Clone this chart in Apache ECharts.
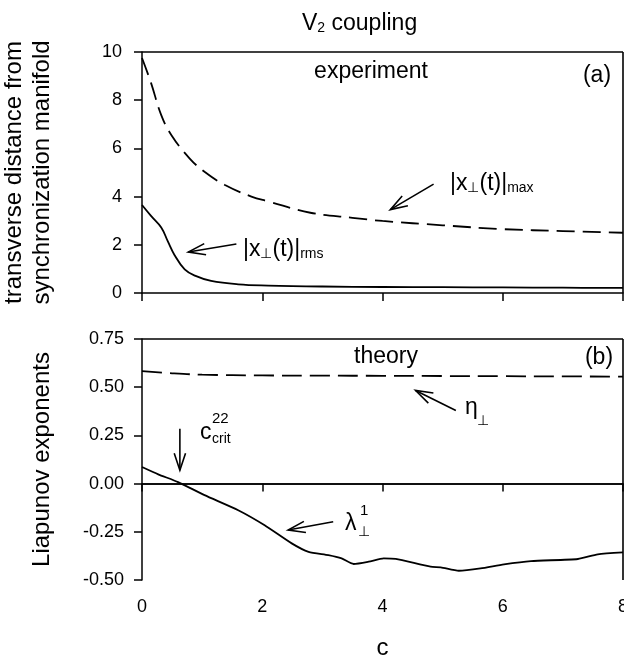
<!DOCTYPE html>
<html>
<head>
<meta charset="utf-8">
<script src="https://cdn.jsdelivr.net/npm/echarts@6/dist/echarts.min.js"></script>
<style>
  html, body { margin: 0; padding: 0; background: #fff; }
  #app { width: 624px; height: 656px; }
</style>
</head>
<body>
<div id="app"></div>
<script>
// (a) experiment
var cMax = [0, 0.15, 0.32, 0.49, 0.79, 1.04, 1.38, 1.82, 2.1, 2.8, 3.5, 4.0, 5.0, 6.0, 7.0, 8.0];
var xMax = [9.75, 8.72, 7.38, 6.55, 5.59, 5.03, 4.48, 4.0, 3.8, 3.33, 3.12, 2.99, 2.81, 2.65, 2.57, 2.5];
var cRms = [0, 0.15, 0.32, 0.43, 0.54, 0.71, 0.88, 1.15, 1.6, 2.1, 3.0, 4.0, 5.0, 6.0, 7.0, 8.0];
var xRms = [3.65, 3.2, 2.72, 2.14, 1.58, 0.98, 0.72, 0.5, 0.36, 0.31, 0.27, 0.25, 0.24, 0.23, 0.22, 0.21];
// (b) theory
var cEta = [0, 0.5, 1.0, 2.0, 3, 4, 5, 6, 7, 8];
var eta = [0.583, 0.572, 0.565, 0.561, 0.56, 0.559, 0.558, 0.557, 0.556, 0.555];
var cLam = [0, 0.27, 0.6, 1.04, 1.6, 2.04, 2.49, 2.77, 3.1, 3.32, 3.52, 3.77, 4.02, 4.22, 4.8, 4.97, 5.27, 5.63, 6.02, 6.47, 7.25, 7.58, 8.0];
var lam = [0.086, 0.048, 0.008, -0.06, -0.138, -0.216, -0.31, -0.354, -0.371, -0.388, -0.417, -0.405, -0.388, -0.391, -0.431, -0.434, -0.452, -0.44, -0.419, -0.402, -0.391, -0.367, -0.357];
// ticks
var cTicks = [0, 2, 4, 6, 8];
var topTicks = [0, 2, 4, 6, 8, 10];
var botTicks = [-0.5, -0.25, 0, 0.25, 0.5, 0.75];

var FONT = '"Liberation Sans", Arial, sans-serif';

function pairs(xs, ys) {
  return xs.map(function (x, i) { return [x, ys[i]]; });
}

var chart = echarts.init(document.getElementById('app'));

var lineSt = { color: '#000', width: 1.5 };
var xAxisBase = {
  type: 'value', min: cTicks[0], max: cTicks[cTicks.length - 1], interval: 2,
  axisLine: { lineStyle: lineSt },
  axisTick: { inside: false, length: 8, lineStyle: lineSt },
  splitLine: { show: false }
};

var option = {
  animation: false,
  grid: [
    { left: 142, right: 1, top: 52, height: 241, outerBoundsMode: 'none', containLabel: false },
    { left: 142, right: 1, top: 339, height: 241, outerBoundsMode: 'none', containLabel: false }
  ],
  xAxis: [
    Object.assign({}, xAxisBase, { gridIndex: 0, axisLabel: { show: false } }),
    Object.assign({}, xAxisBase, {
      gridIndex: 1,
      axisLabel: { fontSize: 18, color: '#000', fontFamily: FONT, margin: 18 },
      name: 'c', nameLocation: 'middle', nameGap: 56,
      nameTextStyle: { fontSize: 24, color: '#000', fontFamily: FONT }
    })
  ],
  yAxis: [
    {
      type: 'value', gridIndex: 0, min: topTicks[0], max: topTicks[topTicks.length - 1], interval: 2,
      axisLine: { show: true, lineStyle: lineSt },
      axisTick: { show: true, inside: false, length: 8, lineStyle: lineSt },
      splitLine: { show: false },
      axisLabel: { fontSize: 18, color: '#000', fontFamily: FONT, margin: 20 },
      name: 'transverse distance from\nsynchronization manifold',
      nameLocation: 'middle', nameRotate: 90, nameGap: 86,
      nameTextStyle: { fontSize: 24, color: '#000', fontFamily: FONT, lineHeight: 28 }
    },
    {
      type: 'value', gridIndex: 1, min: botTicks[0], max: botTicks[botTicks.length - 1], interval: 0.25,
      axisLine: { show: true, lineStyle: lineSt },
      axisTick: { show: true, inside: false, length: 8, lineStyle: lineSt },
      splitLine: { show: false },
      axisLabel: {
        fontSize: 18, color: '#000', fontFamily: FONT, margin: 18,
        formatter: function (v) { return v.toFixed(2); }
      },
      name: 'Liapunov exponents',
      nameLocation: 'middle', nameRotate: 90, nameGap: 88,
      nameTextStyle: { fontSize: 24, color: '#000', fontFamily: FONT }
    }
  ],
  series: [
    {
      type: 'line', xAxisIndex: 0, yAxisIndex: 0, data: pairs(cMax, xMax),
      smooth: 0.4, symbol: 'none',
      lineStyle: { color: '#000', width: 1.8, type: [18, 8] }
    },
    {
      type: 'line', xAxisIndex: 0, yAxisIndex: 0, data: pairs(cRms, xRms),
      smooth: 0.4, symbol: 'none',
      lineStyle: { color: '#000', width: 1.8 }
    },
    {
      type: 'line', xAxisIndex: 1, yAxisIndex: 1, data: pairs(cEta, eta),
      smooth: 0.4, symbol: 'none',
      lineStyle: { color: '#000', width: 1.8, type: [20, 8] }
    },
    {
      type: 'line', xAxisIndex: 1, yAxisIndex: 1, data: pairs(cLam, lam),
      smooth: 0.2, symbol: 'none',
      lineStyle: { color: '#000', width: 1.8 },
      markLine: {
        silent: true, symbol: 'none', label: { show: false },
        lineStyle: { color: '#000', width: 1.5, type: 'solid' },
        data: [{ yAxis: 0 }]
      }
    }
  ]
};

chart.setOption(option);

// annotations
function arrow(gi, from, to) {
  var a = chart.convertToPixel({ gridIndex: gi }, from);
  var b = chart.convertToPixel({ gridIndex: gi }, to);
  var ang = Math.atan2(a[1] - b[1], a[0] - b[0]);
  var L = 18, s = 0.32;
  var p1 = [b[0] + L * Math.cos(ang + s), b[1] + L * Math.sin(ang + s)];
  var p2 = [b[0] + L * Math.cos(ang - s), b[1] + L * Math.sin(ang - s)];
  var st = { stroke: '#000', lineWidth: 1.6, fill: null };
  return [
    { type: 'line', shape: { x1: a[0], y1: a[1], x2: b[0], y2: b[1] }, style: st },
    { type: 'polyline', shape: { points: [p1, b, p2] }, style: st }
  ];
}

// panel frame (top and right edges)
function frame(gi, ymin, ymax) {
  var tl = chart.convertToPixel({ gridIndex: gi }, [cTicks[0], ymax]);
  var br = chart.convertToPixel({ gridIndex: gi }, [cTicks[cTicks.length - 1], ymin]);
  var st = { stroke: '#000', lineWidth: 1.6, fill: null };
  return [
    { type: 'line', silent: true, shape: { x1: tl[0], y1: tl[1], x2: br[0], y2: tl[1] }, style: st },
    { type: 'line', silent: true, shape: { x1: br[0], y1: tl[1], x2: br[0], y2: br[1] }, style: st }
  ];
}

function txt(x, y, s, size, align) {
  return {
    type: 'text', x: x, y: y,
    style: { text: s, fontSize: size, fontFamily: FONT, fill: '#000', align: align || 'left', verticalAlign: 'middle' }
  };
}

var mainSt = { fontSize: 23, fontFamily: FONT, lineHeight: 23, padding: [0, 0, 4, 0], verticalAlign: 'top' };
var subSt = { fontSize: 14, fontFamily: FONT, lineHeight: 14, verticalAlign: 'bottom' };

function richTxt(x, y, s, size) {
  var m = Object.assign({}, mainSt, { fontSize: size || 23, lineHeight: size || 23 });
  return {
    type: 'text', x: x, y: y,
    style: { text: s, fill: '#000', align: 'left', verticalAlign: 'middle', rich: { m: m, s: subSt } }
  };
}

var g = [];
g = g.concat(frame(0, topTicks[0], topTicks[topTicks.length - 1]));
g = g.concat(frame(1, botTicks[0], botTicks[botTicks.length - 1]));
g.push(richTxt(302, 24, '{m|V}{s|2}{m| coupling}', 23));
g.push(txt(371, 72, 'experiment', 23, 'center'));
g.push(txt(597, 76, '(a)', 23, 'center'));
g.push(richTxt(450, 184, '{m||x}{s|⊥}{m|(t)|}{s|max}'));
g.push(richTxt(243, 250, '{m||x}{s|⊥}{m|(t)|}{s|rms}'));
g.push(txt(386, 357, 'theory', 23, 'center'));
g.push(txt(599, 358, '(b)', 23, 'center'));
g.push(txt(465, 408, 'η', 23));
g.push(txt(477, 421, '⊥', 14));
g.push(txt(200, 433, 'c', 23));
g.push(txt(212, 419, '22', 15));
g.push(txt(212, 439, 'crit', 14));
g.push(txt(345, 524, 'λ', 23));
g.push(txt(360, 511, '1', 15));
g.push(txt(358, 532, '⊥', 14));

g = g.concat(arrow(0, [4.85, 4.52], [4.13, 3.46]));
g = g.concat(arrow(0, [1.57, 2.03], [0.77, 1.70]));
g = g.concat(arrow(1, [5.22, 0.379], [4.55, 0.483]));
g = g.concat(arrow(1, [0.63, 0.285], [0.63, 0.069]));
g = g.concat(arrow(1, [3.18, -0.198], [2.43, -0.241]));

chart.setOption({ graphic: g });
</script>
</body>
</html>
